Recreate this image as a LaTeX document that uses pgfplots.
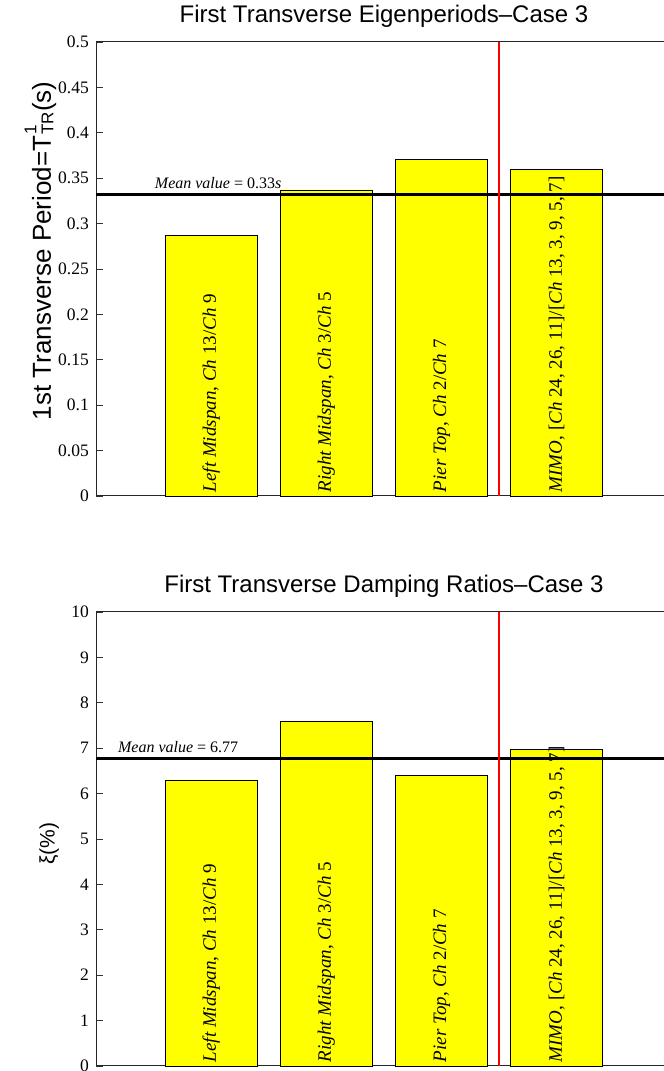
\documentclass[border=0pt]{standalone}
\usepackage{pgfplots}
\pgfplotsset{compat=1.18}
\usepackage{fontspec}
\setmainfont{Liberation Serif}
\newfontfamily\helv[Ligatures=TeX]{Liberation Sans}

\definecolor{baryellow}{RGB}{255,255,0}

\pgfplotsset{
  caseaxis/.style={
    width=576pt, height=454pt, scale only axis,
    anchor=south west,
    xmin=0, xmax=5, xtick=\empty,
    ymin=0,
    axis line style={line width=1pt, black!85},
    tick align=inside, ytick pos=left,
    major tick length=7pt,
    tick style={line width=0.8pt, black!80},
    /pgf/number format/assume math mode=true,
    yticklabel style={font=\fontsize{17.5}{18}\selectfont, inner sep=0pt, xshift=-7pt},
    title style={font=\helv\fontsize{24}{26}\selectfont,
      at={(axis description cs:0.5,1)}, anchor=base, yshift=13pt},
    clip=false,
  },
}
\tikzset{
  barstyle/.style={ybar, bar width=0.8, bar shift=0pt,
    fill=baryellow, draw=black, line width=0.8pt},
  meanline/.style={black, line width=2.4pt},
  splitline/.style={red, line width=2pt},
  barlabel/.style={rotate=90, anchor=west, inner sep=0pt,
    font=\fontsize{19}{20}\selectfont},
  meanlabel/.style={anchor=base west, inner sep=0pt, yshift=6pt,
    font=\fontsize{16}{17}\selectfont},
}

\begin{document}
\begin{tikzpicture}
% Eigenperiods
\begin{axis}[caseaxis, at={(96pt,575pt)},
  ymax=0.5, ytick={0,0.05,...,0.5},
  yticklabels={0,0.05,0.1,0.15,0.2,0.25,0.3,0.35,0.4,0.45,0.5},
  title={First Transverse Eigenperiods–Case 3},
  ylabel style={font=\helv\fontsize{26}{28}\selectfont,
    at={(axis description cs:-0.0785,0.54)}, anchor=base},
  ylabel={1st Transverse Period=T\kern1pt\makebox[0pt][l]{\raisebox{0.55em}{\fontsize{17}{17}\selectfont 1}}\raisebox{-0.1em}{\fontsize{17}{17}\selectfont TR}(s)}]
\addplot[barstyle] coordinates {(1,0.287) (2,0.337) (3,0.371) (4,0.360)};
\addplot[meanline] coordinates {(0,0.332) (5,0.332)};
\addplot[splitline] coordinates {(3.5,0) (3.5,0.5)};
\node[meanlabel] at (axis cs:0.51,0.332) {\textit{Mean value} = 0.33\textit{s}};
\node[barlabel] at (axis cs:1,0.004) {\textit{Left Midspan}, \textit{Ch} 13/\textit{Ch} 9};
\node[barlabel] at (axis cs:2,0.004) {\textit{Right Midspan}, \textit{Ch} 3/\textit{Ch} 5};
\node[barlabel] at (axis cs:3,0.004) {\textit{Pier Top}, \textit{Ch} 2/\textit{Ch} 7};
\node[barlabel] at (axis cs:4,0.004) {\textit{MIMO}, [\textit{Ch} 24, 26, 11]/[\textit{Ch} 13, 3, 9, 5, 7]};
\end{axis}
% Damping ratios
\begin{axis}[caseaxis, at={(96pt,5pt)},
  ymax=10, ytick={0,1,...,10},
  title={First Transverse Damping Ratios–Case 3},
  ylabel style={font=\helv\fontsize{21}{22}\selectfont,
    at={(axis description cs:-0.072,0.49)}, anchor=base},
  ylabel={ξ(\%)}]
\addplot[barstyle] coordinates {(1,6.30) (2,7.60) (3,6.40) (4,6.97)};
\addplot[meanline] coordinates {(0,6.77) (5,6.77)};
\addplot[splitline] coordinates {(3.5,0) (3.5,10)};
\node[meanlabel] at (axis cs:0.19,6.77) {\textit{Mean value} = 6.77};
\node[barlabel] at (axis cs:1,0.08) {\textit{Left Midspan}, \textit{Ch} 13/\textit{Ch} 9};
\node[barlabel] at (axis cs:2,0.08) {\textit{Right Midspan}, \textit{Ch} 3/\textit{Ch} 5};
\node[barlabel] at (axis cs:3,0.08) {\textit{Pier Top}, \textit{Ch} 2/\textit{Ch} 7};
\node[barlabel] at (axis cs:4,0.08) {\textit{MIMO}, [\textit{Ch} 24, 26, 11]/[\textit{Ch} 13, 3, 9, 5, 7]};
\end{axis}
\pgfresetboundingbox
\path[use as bounding box] (0,0) rectangle (664pt,1071pt);
\end{tikzpicture}
\end{document}
